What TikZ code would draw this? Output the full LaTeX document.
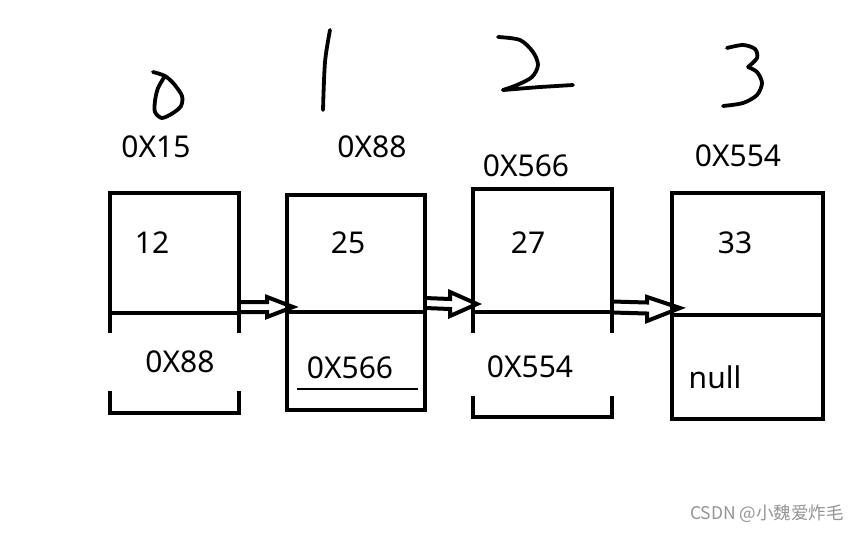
\documentclass[tikz,border=0pt]{standalone}
\usepackage{fontspec}
\setmainfont{Noto Sans}
\newfontfamily\cjkfont{Noto Sans CJK SC}
\usetikzlibrary{calc}
\begin{document}
\begin{tikzpicture}[x=1pt,y=-1pt,
  cell/.style={draw=none,inner sep=0pt,outer sep=0pt,rectangle},
  boxline/.style={line width=4pt,line cap=rect},
  link/.style={line width=4pt,line join=miter,line cap=butt},
  lbl/.style={inner sep=0pt,font=\fontsize{30}{32}\selectfont},
  hand/.style={line width=3.8pt,line cap=round,line join=round}]
\useasboundingbox[fill=white] (0,0) rectangle (867,533);

% cells
\node[cell,minimum width=129pt,minimum height=120pt] (d0) at (174.5,253) {};
\node[cell,minimum width=129pt,minimum height=100pt] (n0) at (174.5,363) {};
\node[cell,minimum width=138pt,minimum height=117pt] (d1) at (356,253.5) {};
\node[cell,minimum width=138pt,minimum height=98pt] (n1) at (356,361) {};
\node[cell,minimum width=139pt,minimum height=123pt] (d2) at (542.5,250.5) {};
\node[cell,minimum width=139pt,minimum height=105pt] (n2) at (542.5,364.5) {};
\node[cell,minimum width=151pt,minimum height=122pt] (d3) at (747.5,254) {};
\node[cell,minimum width=151pt,minimum height=104pt] (n3) at (747.5,367) {};

% box 0 (open bracket bottom)
\draw[boxline] (d0.south west) rectangle (d0.north east);
\draw[boxline] (n0.north west) -- ++(0,18);
\draw[boxline] (n0.north east) -- ++(0,18);
\draw[boxline] ($(n0.south west)+(0,-20)$) -- (n0.south west) -- (n0.south east) -- ++(0,-20);
% box 1
\draw[boxline] (d1.south west) rectangle (d1.north east);
\draw[boxline] (n1.north west) rectangle (n1.south east);
% box 2 (open bracket bottom)
\draw[boxline] (d2.south west) rectangle (d2.north east);
\draw[boxline] (n2.north west) -- ++(0,19);
\draw[boxline] (n2.north east) -- ++(0,19);
\draw[boxline] ($(n2.south west)+(0,-19)$) -- (n2.south west) -- (n2.south east) -- ++(0,-19);
% box 3
\draw[boxline] (d3.south west) rectangle (d3.north east);
\draw[boxline] (n3.north west) rectangle (n3.south east);

% cell texts
\node[lbl] (v0) at (152,243) {12};
\node[lbl] (v1) at (348,243) {25};
\node[lbl] (v2) at (528,243) {27};
\node[lbl] (v3) at (735,243) {33};
\node[lbl] (p0) at (180,362) {0X88};
\node[lbl] (p1) at (350,368) {0X566};
\node[lbl] (p2) at (530,367) {0X554};
\node[lbl] (p3) at (715,377) {null};
\draw[line width=2pt] ($(n1.west)+(10,28)$) coordinate (u0) -- ($(n1.east)+(-7,28)$) coordinate (u1);

% address labels
\node[lbl] (a0) at (156,147) {0X15};
\node[lbl] (a1) at (372,147) {0X88};
\node[lbl] (a2) at (526,166) {0X566};
\node[lbl] (a3) at (738,156) {0X554};

% arrows
\coordinate (s0) at ($(d0.south east)+(0,-6)$);
\coordinate (t0) at ($(d1.south west)+(6,-5)$);
\coordinate (s1) at ($(d1.south east)+(0,-9)$);
\coordinate (t1) at ($(d2.south west)+(4,-8)$);
\coordinate (s2) at ($(d2.south east)+(0,-5)$);
\coordinate (t2) at ($(d3.south west)+(8,-7)$);
\draw[link] ($(s0)+(0,-5)$) -- ($(t0)+(-26,-5)$) -- ($(t0)+(-26,-10)$) -- (t0)
  -- ($(t0)+(-26,10)$) -- ($(t0)+(-26,5)$) -- ($(s0)+(0,5)$);
\draw[link] ($(s1)+(0,-5)$) -- ($(t1)+(-27,-5)$) -- ($(t1)+(-27,-12)$) -- (t1)
  -- ($(t1)+(-27,12)$) -- ($(t1)+(-27,5)$) -- ($(s1)+(0,5)$);
\draw[link] ($(s2)+(0,-5.5)$) -- ($(t2)+(-33,-5.5)$) -- ($(t2)+(-33,-11)$) -- (t2)
  -- ($(t2)+(-33,13)$) -- ($(t2)+(-33,5.5)$) -- ($(s2)+(0,5.5)$);

% handwritten indices
\draw[hand] plot[smooth] coordinates {(153,72) (165,76) (174,84) (182,96) (181,106) (173,113) (162,118) (155,112) (155,101) (158,88) (165,76)};
\draw[hand] plot[smooth] coordinates {(330,30) (325,62) (323,110)};
\draw[hand] plot[smooth] coordinates {(498,37) (520,40) (533,52) (538,65) (532,77) (517,85) (503,90)};
\draw[hand] (503,90) -- (540,87) -- (573,85);
\draw[hand] plot[smooth] coordinates {(727,48) (743,45) (755,49) (757,58) (748,67)};
\draw[hand] plot[smooth] coordinates {(748,67) (757,72) (762,83) (757,95) (743,103) (723,106)};

% watermark
\node[inner sep=0pt,text=black!42,font=\cjkfont\fontsize{17.5}{19}\selectfont] (wm) at (767,514) {CSDN @小魏爱炸毛};
\end{tikzpicture}
\end{document}
